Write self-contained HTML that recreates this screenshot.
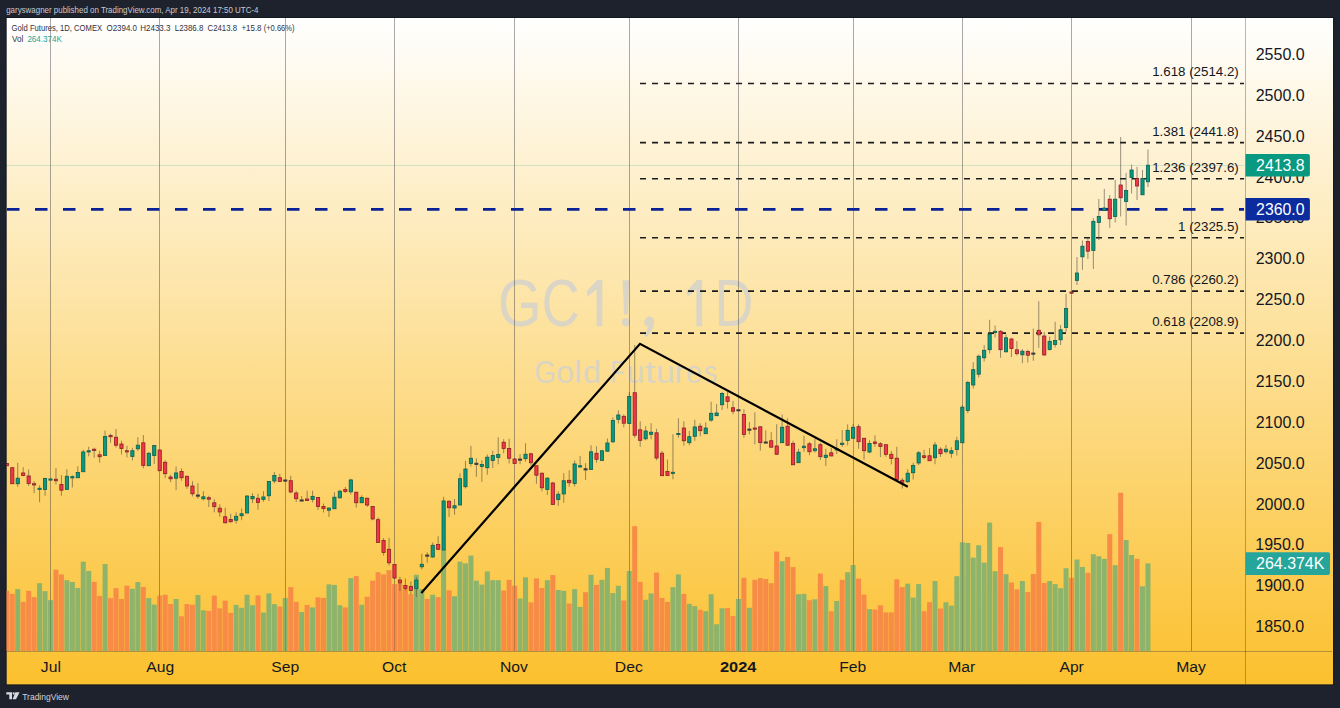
<!DOCTYPE html>
<html><head><meta charset="utf-8"><style>
html,body{margin:0;padding:0;}
body{width:1340px;height:708px;background:#1e222d;position:relative;overflow:hidden;font-family:"Liberation Sans",sans-serif;}
svg{position:absolute;left:0;top:0;}
.t{position:absolute;white-space:pre;line-height:1;}
</style></head><body>
<svg width="1340" height="708" viewBox="0 0 1340 708">
<defs><linearGradient id="bg" x1="0" y1="0" x2="0" y2="1"><stop offset="0" stop-color="#ffffff"/><stop offset="1" stop-color="#fbc02d"/></linearGradient><clipPath id="plot"><rect x="6" y="18" width="1238" height="633"/></clipPath></defs>
<rect x="6.5" y="18.0" width="1326.5" height="666.6" fill="url(#bg)"/>
<g opacity="0.85" font-family="'Liberation Sans', sans-serif"><text x="498.10" y="326.30" font-size="66.50" font-weight="normal" fill="#d5d3cb" textLength="43.60" lengthAdjust="spacingAndGlyphs" xml:space="preserve">G</text>
<text x="541.73" y="326.30" font-size="66.50" font-weight="normal" fill="#d5d3cb" textLength="37.76" lengthAdjust="spacingAndGlyphs" xml:space="preserve">C</text>
<text x="714.48" y="326.30" font-size="66.50" font-weight="normal" fill="#d5d3cb" textLength="38.91" lengthAdjust="spacingAndGlyphs" xml:space="preserve">D</text>
<path d="M622.6,280.3 L629.4,280.3 L627.9,314.5 L624.1,314.5 Z" fill="#d5d3cb"/><circle cx="626" cy="322.3" r="4.1" fill="#d5d3cb"/>
<path d="M645.2,319.5 A4.6,4.6 0 0 1 654,322 C654,328 650.5,333.5 646.5,337.1 L643.8,335.5 C646.5,332 647.8,329 647.6,326.5 A4.2,4.2 0 0 1 645.2,319.5 Z" fill="#d5d3cb"/>
<path d="M602.3,280 L602.3,326.3 L596.6,326.3 L596.6,289.5 L587.9,296.6 L586.4,291.6 L597.2,280 Z" fill="#d5d3cb"/>
<path d="M702.1,280 L702.1,326.3 L696.4,326.3 L696.4,289.5 L687.7,296.6 L686.2,291.6 L697.0,280 Z" fill="#d5d3cb"/>
<text x="534.42" y="382.50" font-size="32.00" font-weight="normal" fill="#d5d3cb" textLength="21.44" lengthAdjust="spacingAndGlyphs" xml:space="preserve">G</text>
<text x="556.26" y="382.50" font-size="32.00" font-weight="normal" fill="#d5d3cb" textLength="17.79" lengthAdjust="spacingAndGlyphs" xml:space="preserve">o</text>
<text x="574.47" y="382.50" font-size="32.00" font-weight="normal" fill="#d5d3cb" textLength="7.07" lengthAdjust="spacingAndGlyphs" xml:space="preserve">l</text>
<text x="582.94" y="382.50" font-size="32.00" font-weight="normal" fill="#d5d3cb" textLength="18.04" lengthAdjust="spacingAndGlyphs" xml:space="preserve">d</text>
<text x="610.52" y="382.50" font-size="32.00" font-weight="normal" fill="#d5d3cb" textLength="13.99" lengthAdjust="spacingAndGlyphs" xml:space="preserve">F</text>
<text x="626.82" y="382.50" font-size="32.00" font-weight="normal" fill="#d5d3cb" textLength="17.80" lengthAdjust="spacingAndGlyphs" xml:space="preserve">u</text>
<text x="645.03" y="382.50" font-size="32.00" font-weight="normal" fill="#d5d3cb" textLength="10.53" lengthAdjust="spacingAndGlyphs" xml:space="preserve">t</text>
<text x="655.98" y="382.50" font-size="32.00" font-weight="normal" fill="#d5d3cb" textLength="18.97" lengthAdjust="spacingAndGlyphs" xml:space="preserve">u</text>
<text x="674.28" y="382.50" font-size="32.00" font-weight="normal" fill="#d5d3cb" textLength="11.72" lengthAdjust="spacingAndGlyphs" xml:space="preserve">r</text>
<text x="686.08" y="382.50" font-size="32.00" font-weight="normal" fill="#d5d3cb" textLength="16.09" lengthAdjust="spacingAndGlyphs" xml:space="preserve">e</text>
<text x="704.06" y="382.50" font-size="32.00" font-weight="normal" fill="#d5d3cb" textLength="13.30" lengthAdjust="spacingAndGlyphs" xml:space="preserve">s</text></g>
<g clip-path="url(#plot)">
<rect x="50" y="18" width="1" height="633" fill="rgba(50,50,60,0.42)"/>
<rect x="159" y="18" width="1" height="633" fill="rgba(50,50,60,0.42)"/>
<rect x="285" y="18" width="1" height="633" fill="rgba(50,50,60,0.42)"/>
<rect x="394" y="18" width="1" height="633" fill="rgba(50,50,60,0.42)"/>
<rect x="514" y="18" width="1" height="633" fill="rgba(50,50,60,0.42)"/>
<rect x="629" y="18" width="1" height="633" fill="rgba(50,50,60,0.42)"/>
<rect x="738" y="18" width="1" height="633" fill="rgba(50,50,60,0.42)"/>
<rect x="853" y="18" width="1" height="633" fill="rgba(50,50,60,0.42)"/>
<rect x="962" y="18" width="1" height="633" fill="rgba(50,50,60,0.42)"/>
<rect x="1071" y="18" width="1" height="633" fill="rgba(50,50,60,0.42)"/>
<rect x="1191" y="18" width="1" height="633" fill="rgba(50,50,60,0.42)"/>
<rect x="4.32" y="590.85" width="5.0" height="60.15" fill="#f78c46"/>
<rect x="9.78" y="593.90" width="5.0" height="57.10" fill="#f78c46"/>
<rect x="15.24" y="589.15" width="5.0" height="61.85" fill="#8db46a"/>
<rect x="20.70" y="601.86" width="5.0" height="49.14" fill="#f78c46"/>
<rect x="26.16" y="590.85" width="5.0" height="60.15" fill="#f78c46"/>
<rect x="31.62" y="597.12" width="5.0" height="53.88" fill="#f78c46"/>
<rect x="37.08" y="583.22" width="5.0" height="67.78" fill="#8db46a"/>
<rect x="42.54" y="591.19" width="5.0" height="59.81" fill="#8db46a"/>
<rect x="48.00" y="600.17" width="5.0" height="50.83" fill="#8db46a"/>
<rect x="53.46" y="569.66" width="5.0" height="81.34" fill="#f78c46"/>
<rect x="58.92" y="574.41" width="5.0" height="76.59" fill="#f78c46"/>
<rect x="64.38" y="580.17" width="5.0" height="70.83" fill="#8db46a"/>
<rect x="69.84" y="582.03" width="5.0" height="68.97" fill="#8db46a"/>
<rect x="75.30" y="587.97" width="5.0" height="63.03" fill="#8db46a"/>
<rect x="80.76" y="561.69" width="5.0" height="89.31" fill="#8db46a"/>
<rect x="86.22" y="571.02" width="5.0" height="79.98" fill="#8db46a"/>
<rect x="91.68" y="581.86" width="5.0" height="69.14" fill="#f78c46"/>
<rect x="97.14" y="595.93" width="5.0" height="55.07" fill="#f78c46"/>
<rect x="102.60" y="564.07" width="5.0" height="86.93" fill="#8db46a"/>
<rect x="108.06" y="598.14" width="5.0" height="52.86" fill="#f78c46"/>
<rect x="113.52" y="588.14" width="5.0" height="62.86" fill="#f78c46"/>
<rect x="118.98" y="598.98" width="5.0" height="52.02" fill="#f78c46"/>
<rect x="124.44" y="585.76" width="5.0" height="65.24" fill="#f78c46"/>
<rect x="129.90" y="588.81" width="5.0" height="62.19" fill="#8db46a"/>
<rect x="135.36" y="582.03" width="5.0" height="68.97" fill="#8db46a"/>
<rect x="140.82" y="586.95" width="5.0" height="64.05" fill="#f78c46"/>
<rect x="146.28" y="598.14" width="5.0" height="52.86" fill="#8db46a"/>
<rect x="151.74" y="604.58" width="5.0" height="46.42" fill="#8db46a"/>
<rect x="157.20" y="595.59" width="5.0" height="55.41" fill="#f78c46"/>
<rect x="162.66" y="594.75" width="5.0" height="56.25" fill="#f78c46"/>
<rect x="168.12" y="604.07" width="5.0" height="46.93" fill="#f78c46"/>
<rect x="173.58" y="598.98" width="5.0" height="52.02" fill="#8db46a"/>
<rect x="179.04" y="616.27" width="5.0" height="34.73" fill="#f78c46"/>
<rect x="184.50" y="604.07" width="5.0" height="46.93" fill="#f78c46"/>
<rect x="189.96" y="604.75" width="5.0" height="46.25" fill="#f78c46"/>
<rect x="195.42" y="595.08" width="5.0" height="55.92" fill="#8db46a"/>
<rect x="200.88" y="610.34" width="5.0" height="40.66" fill="#8db46a"/>
<rect x="206.34" y="610.85" width="5.0" height="40.15" fill="#f78c46"/>
<rect x="211.80" y="595.59" width="5.0" height="55.41" fill="#f78c46"/>
<rect x="217.26" y="608.31" width="5.0" height="42.69" fill="#f78c46"/>
<rect x="222.72" y="600.68" width="5.0" height="50.32" fill="#f78c46"/>
<rect x="228.18" y="612.88" width="5.0" height="38.12" fill="#f78c46"/>
<rect x="233.64" y="604.92" width="5.0" height="46.08" fill="#8db46a"/>
<rect x="239.10" y="607.80" width="5.0" height="43.20" fill="#8db46a"/>
<rect x="244.56" y="594.75" width="5.0" height="56.25" fill="#8db46a"/>
<rect x="250.02" y="605.25" width="5.0" height="45.75" fill="#8db46a"/>
<rect x="255.48" y="595.42" width="5.0" height="55.58" fill="#f78c46"/>
<rect x="260.94" y="612.54" width="5.0" height="38.46" fill="#8db46a"/>
<rect x="266.40" y="593.39" width="5.0" height="57.61" fill="#8db46a"/>
<rect x="271.86" y="604.07" width="5.0" height="46.93" fill="#8db46a"/>
<rect x="277.32" y="606.44" width="5.0" height="44.56" fill="#f78c46"/>
<rect x="282.78" y="597.97" width="5.0" height="53.03" fill="#8db46a"/>
<rect x="288.24" y="587.12" width="5.0" height="63.88" fill="#f78c46"/>
<rect x="293.70" y="601.86" width="5.0" height="49.14" fill="#f78c46"/>
<rect x="299.16" y="612.03" width="5.0" height="38.97" fill="#8db46a"/>
<rect x="304.62" y="604.92" width="5.0" height="46.08" fill="#f78c46"/>
<rect x="310.08" y="607.46" width="5.0" height="43.54" fill="#8db46a"/>
<rect x="315.54" y="597.29" width="5.0" height="53.71" fill="#f78c46"/>
<rect x="321.00" y="597.97" width="5.0" height="53.03" fill="#f78c46"/>
<rect x="326.46" y="584.41" width="5.0" height="66.59" fill="#8db46a"/>
<rect x="331.92" y="584.92" width="5.0" height="66.08" fill="#8db46a"/>
<rect x="337.38" y="605.25" width="5.0" height="45.75" fill="#8db46a"/>
<rect x="342.84" y="607.46" width="5.0" height="43.54" fill="#f78c46"/>
<rect x="348.30" y="578.14" width="5.0" height="72.86" fill="#8db46a"/>
<rect x="353.76" y="576.10" width="5.0" height="74.90" fill="#f78c46"/>
<rect x="359.22" y="604.75" width="5.0" height="46.25" fill="#8db46a"/>
<rect x="364.68" y="596.78" width="5.0" height="54.22" fill="#f78c46"/>
<rect x="370.14" y="580.68" width="5.0" height="70.32" fill="#f78c46"/>
<rect x="375.60" y="572.20" width="5.0" height="78.80" fill="#f78c46"/>
<rect x="381.06" y="574.41" width="5.0" height="76.59" fill="#f78c46"/>
<rect x="386.52" y="570.17" width="5.0" height="80.83" fill="#f78c46"/>
<rect x="391.98" y="584.07" width="5.0" height="66.93" fill="#f78c46"/>
<rect x="397.44" y="583.73" width="5.0" height="67.27" fill="#f78c46"/>
<rect x="402.90" y="589.15" width="5.0" height="61.85" fill="#f78c46"/>
<rect x="408.36" y="594.24" width="5.0" height="56.76" fill="#f78c46"/>
<rect x="413.82" y="574.75" width="5.0" height="76.25" fill="#8db46a"/>
<rect x="419.28" y="589.15" width="5.0" height="61.85" fill="#8db46a"/>
<rect x="424.74" y="598.98" width="5.0" height="52.02" fill="#f78c46"/>
<rect x="430.20" y="594.75" width="5.0" height="56.25" fill="#8db46a"/>
<rect x="435.66" y="597.12" width="5.0" height="53.88" fill="#f78c46"/>
<rect x="441.12" y="550.00" width="5.0" height="101.00" fill="#8db46a"/>
<rect x="446.58" y="590.34" width="5.0" height="60.66" fill="#f78c46"/>
<rect x="452.04" y="596.27" width="5.0" height="54.73" fill="#8db46a"/>
<rect x="457.50" y="561.69" width="5.0" height="89.31" fill="#8db46a"/>
<rect x="462.96" y="563.39" width="5.0" height="87.61" fill="#8db46a"/>
<rect x="468.42" y="555.59" width="5.0" height="95.41" fill="#8db46a"/>
<rect x="473.88" y="580.68" width="5.0" height="70.32" fill="#8db46a"/>
<rect x="479.34" y="584.58" width="5.0" height="66.42" fill="#8db46a"/>
<rect x="484.80" y="571.36" width="5.0" height="79.64" fill="#8db46a"/>
<rect x="490.26" y="580.17" width="5.0" height="70.83" fill="#8db46a"/>
<rect x="495.72" y="580.17" width="5.0" height="70.83" fill="#8db46a"/>
<rect x="501.18" y="590.51" width="5.0" height="60.49" fill="#f78c46"/>
<rect x="506.64" y="579.83" width="5.0" height="71.17" fill="#f78c46"/>
<rect x="512.10" y="585.76" width="5.0" height="65.24" fill="#f78c46"/>
<rect x="517.56" y="598.47" width="5.0" height="52.53" fill="#8db46a"/>
<rect x="523.02" y="577.29" width="5.0" height="73.71" fill="#8db46a"/>
<rect x="528.48" y="602.37" width="5.0" height="48.63" fill="#f78c46"/>
<rect x="533.94" y="578.47" width="5.0" height="72.53" fill="#f78c46"/>
<rect x="539.40" y="587.97" width="5.0" height="63.03" fill="#f78c46"/>
<rect x="544.86" y="580.17" width="5.0" height="70.83" fill="#8db46a"/>
<rect x="550.32" y="575.08" width="5.0" height="75.92" fill="#f78c46"/>
<rect x="555.78" y="590.00" width="5.0" height="61.00" fill="#8db46a"/>
<rect x="561.24" y="590.85" width="5.0" height="60.15" fill="#8db46a"/>
<rect x="566.70" y="603.56" width="5.0" height="47.44" fill="#f78c46"/>
<rect x="572.16" y="589.15" width="5.0" height="61.85" fill="#8db46a"/>
<rect x="577.62" y="606.95" width="5.0" height="44.05" fill="#8db46a"/>
<rect x="583.08" y="592.20" width="5.0" height="58.80" fill="#f78c46"/>
<rect x="588.54" y="574.75" width="5.0" height="76.25" fill="#8db46a"/>
<rect x="594.00" y="584.92" width="5.0" height="66.08" fill="#f78c46"/>
<rect x="599.46" y="579.83" width="5.0" height="71.17" fill="#8db46a"/>
<rect x="604.92" y="567.97" width="5.0" height="83.03" fill="#8db46a"/>
<rect x="610.38" y="593.05" width="5.0" height="57.95" fill="#8db46a"/>
<rect x="615.84" y="585.76" width="5.0" height="65.24" fill="#8db46a"/>
<rect x="621.30" y="600.51" width="5.0" height="50.49" fill="#f78c46"/>
<rect x="626.76" y="571.02" width="5.0" height="79.98" fill="#8db46a"/>
<rect x="632.22" y="526.20" width="5.0" height="124.80" fill="#f78c46"/>
<rect x="637.68" y="581.86" width="5.0" height="69.14" fill="#f78c46"/>
<rect x="643.14" y="599.83" width="5.0" height="51.17" fill="#8db46a"/>
<rect x="648.60" y="593.39" width="5.0" height="57.61" fill="#8db46a"/>
<rect x="654.06" y="572.54" width="5.0" height="78.46" fill="#f78c46"/>
<rect x="659.52" y="597.97" width="5.0" height="53.03" fill="#f78c46"/>
<rect x="664.98" y="601.86" width="5.0" height="49.14" fill="#f78c46"/>
<rect x="670.44" y="587.12" width="5.0" height="63.88" fill="#8db46a"/>
<rect x="675.90" y="574.41" width="5.0" height="76.59" fill="#8db46a"/>
<rect x="681.36" y="593.90" width="5.0" height="57.10" fill="#f78c46"/>
<rect x="686.82" y="603.90" width="5.0" height="47.10" fill="#8db46a"/>
<rect x="692.28" y="606.10" width="5.0" height="44.90" fill="#8db46a"/>
<rect x="697.74" y="609.83" width="5.0" height="41.17" fill="#f78c46"/>
<rect x="703.20" y="611.19" width="5.0" height="39.81" fill="#8db46a"/>
<rect x="708.66" y="594.24" width="5.0" height="56.76" fill="#8db46a"/>
<rect x="714.12" y="624.24" width="5.0" height="26.76" fill="#8db46a"/>
<rect x="719.58" y="608.31" width="5.0" height="42.69" fill="#8db46a"/>
<rect x="725.04" y="608.14" width="5.0" height="42.86" fill="#f78c46"/>
<rect x="730.50" y="615.93" width="5.0" height="35.07" fill="#f78c46"/>
<rect x="735.96" y="598.98" width="5.0" height="52.02" fill="#8db46a"/>
<rect x="741.42" y="577.80" width="5.0" height="73.20" fill="#f78c46"/>
<rect x="746.88" y="607.80" width="5.0" height="43.20" fill="#8db46a"/>
<rect x="752.34" y="579.83" width="5.0" height="71.17" fill="#f78c46"/>
<rect x="757.80" y="578.14" width="5.0" height="72.86" fill="#f78c46"/>
<rect x="763.26" y="578.98" width="5.0" height="72.02" fill="#f78c46"/>
<rect x="768.72" y="583.22" width="5.0" height="67.78" fill="#f78c46"/>
<rect x="774.18" y="551.53" width="5.0" height="99.47" fill="#f78c46"/>
<rect x="779.64" y="561.19" width="5.0" height="89.81" fill="#8db46a"/>
<rect x="785.10" y="556.95" width="5.0" height="94.05" fill="#f78c46"/>
<rect x="790.56" y="567.12" width="5.0" height="83.88" fill="#f78c46"/>
<rect x="796.02" y="594.24" width="5.0" height="56.76" fill="#8db46a"/>
<rect x="801.48" y="593.90" width="5.0" height="57.10" fill="#8db46a"/>
<rect x="806.94" y="600.17" width="5.0" height="50.83" fill="#f78c46"/>
<rect x="812.40" y="599.32" width="5.0" height="51.68" fill="#8db46a"/>
<rect x="817.86" y="573.56" width="5.0" height="77.44" fill="#f78c46"/>
<rect x="823.32" y="586.10" width="5.0" height="64.90" fill="#8db46a"/>
<rect x="828.78" y="611.19" width="5.0" height="39.81" fill="#f78c46"/>
<rect x="834.24" y="601.02" width="5.0" height="49.98" fill="#8db46a"/>
<rect x="839.70" y="579.83" width="5.0" height="71.17" fill="#f78c46"/>
<rect x="845.16" y="572.20" width="5.0" height="78.80" fill="#8db46a"/>
<rect x="850.62" y="565.08" width="5.0" height="85.92" fill="#8db46a"/>
<rect x="856.08" y="578.64" width="5.0" height="72.36" fill="#f78c46"/>
<rect x="861.54" y="594.58" width="5.0" height="56.42" fill="#f78c46"/>
<rect x="867.00" y="609.15" width="5.0" height="41.85" fill="#8db46a"/>
<rect x="872.46" y="609.49" width="5.0" height="41.51" fill="#f78c46"/>
<rect x="877.92" y="605.25" width="5.0" height="45.75" fill="#f78c46"/>
<rect x="883.38" y="612.37" width="5.0" height="38.63" fill="#f78c46"/>
<rect x="888.84" y="612.37" width="5.0" height="38.63" fill="#f78c46"/>
<rect x="894.30" y="579.32" width="5.0" height="71.68" fill="#f78c46"/>
<rect x="899.76" y="587.12" width="5.0" height="63.88" fill="#f78c46"/>
<rect x="905.22" y="583.73" width="5.0" height="67.27" fill="#8db46a"/>
<rect x="910.68" y="597.63" width="5.0" height="53.37" fill="#8db46a"/>
<rect x="916.14" y="584.07" width="5.0" height="66.93" fill="#8db46a"/>
<rect x="921.60" y="611.19" width="5.0" height="39.81" fill="#f78c46"/>
<rect x="927.06" y="602.22" width="5.0" height="48.78" fill="#f78c46"/>
<rect x="932.52" y="580.96" width="5.0" height="70.04" fill="#8db46a"/>
<rect x="937.98" y="608.55" width="5.0" height="42.45" fill="#f78c46"/>
<rect x="943.44" y="602.22" width="5.0" height="48.78" fill="#8db46a"/>
<rect x="948.90" y="605.61" width="5.0" height="45.39" fill="#8db46a"/>
<rect x="954.36" y="576.21" width="5.0" height="74.79" fill="#8db46a"/>
<rect x="959.82" y="542.29" width="5.0" height="108.71" fill="#8db46a"/>
<rect x="965.28" y="542.97" width="5.0" height="108.03" fill="#8db46a"/>
<rect x="970.74" y="557.67" width="5.0" height="93.33" fill="#8db46a"/>
<rect x="976.20" y="545.23" width="5.0" height="105.77" fill="#8db46a"/>
<rect x="981.66" y="562.64" width="5.0" height="88.36" fill="#8db46a"/>
<rect x="987.12" y="522.61" width="5.0" height="128.39" fill="#8db46a"/>
<rect x="992.58" y="571.23" width="5.0" height="79.77" fill="#8db46a"/>
<rect x="998.04" y="547.04" width="5.0" height="103.96" fill="#f78c46"/>
<rect x="1003.50" y="574.17" width="5.0" height="76.83" fill="#8db46a"/>
<rect x="1008.96" y="582.54" width="5.0" height="68.46" fill="#f78c46"/>
<rect x="1014.42" y="589.33" width="5.0" height="61.67" fill="#f78c46"/>
<rect x="1019.88" y="580.96" width="5.0" height="70.04" fill="#8db46a"/>
<rect x="1025.34" y="592.04" width="5.0" height="58.96" fill="#f78c46"/>
<rect x="1030.80" y="573.95" width="5.0" height="77.05" fill="#f78c46"/>
<rect x="1036.26" y="521.94" width="5.0" height="129.06" fill="#f78c46"/>
<rect x="1041.72" y="582.99" width="5.0" height="68.01" fill="#f78c46"/>
<rect x="1047.18" y="580.96" width="5.0" height="70.04" fill="#8db46a"/>
<rect x="1052.64" y="584.12" width="5.0" height="66.88" fill="#8db46a"/>
<rect x="1058.10" y="588.20" width="5.0" height="62.80" fill="#8db46a"/>
<rect x="1063.56" y="568.23" width="5.0" height="82.77" fill="#8db46a"/>
<rect x="1069.02" y="577.89" width="5.0" height="73.11" fill="#f78c46"/>
<rect x="1074.48" y="559.58" width="5.0" height="91.42" fill="#8db46a"/>
<rect x="1079.94" y="566.96" width="5.0" height="84.04" fill="#8db46a"/>
<rect x="1085.40" y="572.80" width="5.0" height="78.20" fill="#f78c46"/>
<rect x="1090.86" y="554.24" width="5.0" height="96.76" fill="#8db46a"/>
<rect x="1096.32" y="556.28" width="5.0" height="94.72" fill="#8db46a"/>
<rect x="1101.78" y="558.82" width="5.0" height="92.18" fill="#8db46a"/>
<rect x="1107.24" y="534.16" width="5.0" height="116.84" fill="#f78c46"/>
<rect x="1112.70" y="565.18" width="5.0" height="85.82" fill="#8db46a"/>
<rect x="1118.16" y="492.71" width="5.0" height="158.29" fill="#f78c46"/>
<rect x="1123.62" y="540.01" width="5.0" height="110.99" fill="#8db46a"/>
<rect x="1129.08" y="555.01" width="5.0" height="95.99" fill="#8db46a"/>
<rect x="1134.54" y="558.82" width="5.0" height="92.18" fill="#f78c46"/>
<rect x="1140.00" y="586.28" width="5.0" height="64.72" fill="#8db46a"/>
<rect x="1145.46" y="563.40" width="5.0" height="87.60" fill="#8db46a"/>
<rect x="50" y="600.17" width="1" height="50.83" fill="rgba(50,50,60,0.25)"/>
<rect x="159" y="595.59" width="1" height="55.41" fill="rgba(50,50,60,0.25)"/>
<rect x="285" y="597.97" width="1" height="53.03" fill="rgba(50,50,60,0.25)"/>
<rect x="394" y="584.07" width="1" height="66.93" fill="rgba(50,50,60,0.25)"/>
<rect x="514" y="585.76" width="1" height="65.24" fill="rgba(50,50,60,0.25)"/>
<rect x="629" y="571.02" width="1" height="79.98" fill="rgba(50,50,60,0.25)"/>
<rect x="738" y="598.98" width="1" height="52.02" fill="rgba(50,50,60,0.25)"/>
<rect x="853" y="565.08" width="1" height="85.92" fill="rgba(50,50,60,0.25)"/>
<rect x="962" y="542.29" width="1" height="108.71" fill="rgba(50,50,60,0.25)"/>
<rect x="1071" y="577.89" width="1" height="73.11" fill="rgba(50,50,60,0.25)"/>
<rect x="6" y="165" width="1238" height="1" fill="rgba(8,153,129,0.18)"/>
<line x1="640" y1="83.47" x2="1245" y2="83.47" stroke="#1c1c1c" stroke-width="1.6" stroke-dasharray="6 6"/>
<line x1="640" y1="142.66" x2="1245" y2="142.66" stroke="#1c1c1c" stroke-width="1.6" stroke-dasharray="6 6"/>
<line x1="640" y1="178.80" x2="1245" y2="178.80" stroke="#1c1c1c" stroke-width="1.6" stroke-dasharray="6 6"/>
<line x1="640" y1="237.75" x2="1245" y2="237.75" stroke="#1c1c1c" stroke-width="1.6" stroke-dasharray="6 6"/>
<line x1="640" y1="291.14" x2="1245" y2="291.14" stroke="#1c1c1c" stroke-width="1.6" stroke-dasharray="6 6"/>
<line x1="640" y1="333.08" x2="1245" y2="333.08" stroke="#1c1c1c" stroke-width="1.6" stroke-dasharray="6 6"/>
<line x1="7" y1="209.4" x2="1245" y2="209.4" stroke="#0a2196" stroke-width="2.6" stroke-dasharray="12.5 15.5" stroke-linecap="butt"/>
<rect x="6.32" y="463.50" width="1" height="2.25" fill="rgba(70,65,55,0.55)"/>
<rect x="5.22" y="463.50" width="3.2" height="2.25" fill="#f23645" stroke="#8a1f28" stroke-width="0.8"/>
<rect x="11.78" y="467.25" width="1" height="16.50" fill="rgba(70,65,55,0.55)"/>
<rect x="10.68" y="467.70" width="3.2" height="16.05" fill="#f23645" stroke="#8a1f28" stroke-width="0.8"/>
<rect x="17.24" y="462.75" width="1" height="24.00" fill="rgba(70,65,55,0.55)"/>
<rect x="16.14" y="478.20" width="3.2" height="5.55" fill="#089981" stroke="#0b5e50" stroke-width="0.8"/>
<rect x="22.70" y="467.25" width="1" height="9.00" fill="rgba(70,65,55,0.55)"/>
<rect x="21.60" y="472.95" width="3.2" height="2.55" fill="#f23645" stroke="#8a1f28" stroke-width="0.8"/>
<rect x="28.16" y="469.50" width="1" height="16.50" fill="rgba(70,65,55,0.55)"/>
<rect x="27.06" y="475.95" width="3.2" height="7.50" fill="#f23645" stroke="#8a1f28" stroke-width="0.8"/>
<rect x="33.62" y="481.20" width="1" height="12.00" fill="rgba(70,65,55,0.55)"/>
<rect x="32.52" y="483.75" width="3.2" height="1.20" fill="#f23645" stroke="#8a1f28" stroke-width="0.8"/>
<rect x="39.08" y="485.25" width="1" height="16.95" fill="rgba(70,65,55,0.55)"/>
<rect x="37.98" y="488.25" width="3.2" height="1.20" fill="#089981" stroke="#0b5e50" stroke-width="0.8"/>
<rect x="44.54" y="477.75" width="1" height="18.00" fill="rgba(70,65,55,0.55)"/>
<rect x="43.44" y="478.50" width="3.2" height="10.95" fill="#089981" stroke="#0b5e50" stroke-width="0.8"/>
<rect x="50.00" y="478.95" width="1" height="1.05" fill="rgba(70,65,55,0.55)"/>
<rect x="48.90" y="478.95" width="3.2" height="1.20" fill="#089981" stroke="#0b5e50" stroke-width="0.8"/>
<rect x="55.46" y="468.00" width="1" height="16.50" fill="rgba(70,65,55,0.55)"/>
<rect x="54.36" y="479.25" width="3.2" height="1.50" fill="#f23645" stroke="#8a1f28" stroke-width="0.8"/>
<rect x="60.92" y="475.20" width="1" height="20.55" fill="rgba(70,65,55,0.55)"/>
<rect x="59.82" y="484.50" width="3.2" height="5.70" fill="#f23645" stroke="#8a1f28" stroke-width="0.8"/>
<rect x="66.38" y="469.20" width="1" height="20.25" fill="rgba(70,65,55,0.55)"/>
<rect x="65.28" y="476.25" width="3.2" height="13.20" fill="#089981" stroke="#0b5e50" stroke-width="0.8"/>
<rect x="71.84" y="475.20" width="1" height="12.30" fill="rgba(70,65,55,0.55)"/>
<rect x="70.74" y="476.70" width="3.2" height="1.20" fill="#089981" stroke="#0b5e50" stroke-width="0.8"/>
<rect x="77.30" y="466.20" width="1" height="11.55" fill="rgba(70,65,55,0.55)"/>
<rect x="76.20" y="472.50" width="3.2" height="5.25" fill="#089981" stroke="#0b5e50" stroke-width="0.8"/>
<rect x="82.76" y="449.70" width="1" height="22.05" fill="rgba(70,65,55,0.55)"/>
<rect x="81.66" y="451.95" width="3.2" height="19.80" fill="#089981" stroke="#0b5e50" stroke-width="0.8"/>
<rect x="88.22" y="446.70" width="1" height="9.60" fill="rgba(70,65,55,0.55)"/>
<rect x="87.12" y="450.75" width="3.2" height="1.20" fill="#089981" stroke="#0b5e50" stroke-width="0.8"/>
<rect x="93.68" y="447.75" width="1" height="10.05" fill="rgba(70,65,55,0.55)"/>
<rect x="92.58" y="449.25" width="3.2" height="1.20" fill="#f23645" stroke="#8a1f28" stroke-width="0.8"/>
<rect x="99.14" y="450.75" width="1" height="12.00" fill="rgba(70,65,55,0.55)"/>
<rect x="98.04" y="454.80" width="3.2" height="1.95" fill="#f23645" stroke="#8a1f28" stroke-width="0.8"/>
<rect x="104.60" y="430.50" width="1" height="25.05" fill="rgba(70,65,55,0.55)"/>
<rect x="103.50" y="436.50" width="3.2" height="19.05" fill="#089981" stroke="#0b5e50" stroke-width="0.8"/>
<rect x="110.06" y="433.50" width="1" height="9.30" fill="rgba(70,65,55,0.55)"/>
<rect x="108.96" y="435.45" width="3.2" height="1.35" fill="#f23645" stroke="#8a1f28" stroke-width="0.8"/>
<rect x="115.52" y="429.00" width="1" height="18.45" fill="rgba(70,65,55,0.55)"/>
<rect x="114.42" y="437.25" width="3.2" height="7.95" fill="#f23645" stroke="#8a1f28" stroke-width="0.8"/>
<rect x="120.98" y="440.70" width="1" height="13.80" fill="rgba(70,65,55,0.55)"/>
<rect x="119.88" y="444.00" width="3.2" height="4.50" fill="#f23645" stroke="#8a1f28" stroke-width="0.8"/>
<rect x="126.44" y="445.80" width="1" height="11.70" fill="rgba(70,65,55,0.55)"/>
<rect x="125.34" y="450.75" width="3.2" height="1.20" fill="#f23645" stroke="#8a1f28" stroke-width="0.8"/>
<rect x="131.90" y="447.75" width="1" height="12.75" fill="rgba(70,65,55,0.55)"/>
<rect x="130.80" y="450.75" width="3.2" height="5.70" fill="#089981" stroke="#0b5e50" stroke-width="0.8"/>
<rect x="137.36" y="437.25" width="1" height="13.50" fill="rgba(70,65,55,0.55)"/>
<rect x="136.26" y="445.20" width="3.2" height="3.60" fill="#089981" stroke="#0b5e50" stroke-width="0.8"/>
<rect x="142.82" y="435.00" width="1" height="33.30" fill="rgba(70,65,55,0.55)"/>
<rect x="141.72" y="442.80" width="3.2" height="22.65" fill="#f23645" stroke="#8a1f28" stroke-width="0.8"/>
<rect x="148.28" y="451.95" width="1" height="13.80" fill="rgba(70,65,55,0.55)"/>
<rect x="147.18" y="453.30" width="3.2" height="12.45" fill="#089981" stroke="#0b5e50" stroke-width="0.8"/>
<rect x="153.74" y="445.50" width="1" height="18.30" fill="rgba(70,65,55,0.55)"/>
<rect x="152.64" y="445.50" width="3.2" height="10.05" fill="#089981" stroke="#0b5e50" stroke-width="0.8"/>
<rect x="159.20" y="450.00" width="1" height="20.70" fill="rgba(70,65,55,0.55)"/>
<rect x="158.10" y="450.00" width="3.2" height="20.70" fill="#f23645" stroke="#8a1f28" stroke-width="0.8"/>
<rect x="164.66" y="460.20" width="1" height="18.00" fill="rgba(70,65,55,0.55)"/>
<rect x="163.56" y="462.30" width="3.2" height="11.40" fill="#f23645" stroke="#8a1f28" stroke-width="0.8"/>
<rect x="170.12" y="474.75" width="1" height="7.50" fill="rgba(70,65,55,0.55)"/>
<rect x="169.02" y="477.00" width="3.2" height="1.80" fill="#f23645" stroke="#8a1f28" stroke-width="0.8"/>
<rect x="175.58" y="466.50" width="1" height="23.70" fill="rgba(70,65,55,0.55)"/>
<rect x="174.48" y="472.95" width="3.2" height="5.25" fill="#089981" stroke="#0b5e50" stroke-width="0.8"/>
<rect x="181.04" y="468.30" width="1" height="12.45" fill="rgba(70,65,55,0.55)"/>
<rect x="179.94" y="471.45" width="3.2" height="6.30" fill="#f23645" stroke="#8a1f28" stroke-width="0.8"/>
<rect x="186.50" y="475.80" width="1" height="12.90" fill="rgba(70,65,55,0.55)"/>
<rect x="185.40" y="476.25" width="3.2" height="9.75" fill="#f23645" stroke="#8a1f28" stroke-width="0.8"/>
<rect x="191.96" y="481.20" width="1" height="15.30" fill="rgba(70,65,55,0.55)"/>
<rect x="190.86" y="486.00" width="3.2" height="7.80" fill="#f23645" stroke="#8a1f28" stroke-width="0.8"/>
<rect x="197.42" y="483.30" width="1" height="15.45" fill="rgba(70,65,55,0.55)"/>
<rect x="196.32" y="495.00" width="3.2" height="1.20" fill="#3a3a3a" stroke="#3a3a3a" stroke-width="0.8"/>
<rect x="202.88" y="491.25" width="1" height="9.00" fill="rgba(70,65,55,0.55)"/>
<rect x="201.78" y="496.80" width="3.2" height="1.95" fill="#089981" stroke="#0b5e50" stroke-width="0.8"/>
<rect x="208.34" y="495.75" width="1" height="11.25" fill="rgba(70,65,55,0.55)"/>
<rect x="207.24" y="497.70" width="3.2" height="1.50" fill="#f23645" stroke="#8a1f28" stroke-width="0.8"/>
<rect x="213.80" y="499.20" width="1" height="13.05" fill="rgba(70,65,55,0.55)"/>
<rect x="212.70" y="502.80" width="3.2" height="3.90" fill="#f23645" stroke="#8a1f28" stroke-width="0.8"/>
<rect x="219.26" y="504.30" width="1" height="12.45" fill="rgba(70,65,55,0.55)"/>
<rect x="218.16" y="508.20" width="3.2" height="3.75" fill="#f23645" stroke="#8a1f28" stroke-width="0.8"/>
<rect x="224.72" y="507.75" width="1" height="15.75" fill="rgba(70,65,55,0.55)"/>
<rect x="223.62" y="516.75" width="3.2" height="6.00" fill="#f23645" stroke="#8a1f28" stroke-width="0.8"/>
<rect x="230.18" y="513.75" width="1" height="9.00" fill="rgba(70,65,55,0.55)"/>
<rect x="229.08" y="519.45" width="3.2" height="2.25" fill="#f23645" stroke="#8a1f28" stroke-width="0.8"/>
<rect x="235.64" y="512.25" width="1" height="11.25" fill="rgba(70,65,55,0.55)"/>
<rect x="234.54" y="516.30" width="3.2" height="3.90" fill="#089981" stroke="#0b5e50" stroke-width="0.8"/>
<rect x="241.10" y="508.50" width="1" height="11.70" fill="rgba(70,65,55,0.55)"/>
<rect x="240.00" y="513.75" width="3.2" height="1.95" fill="#089981" stroke="#0b5e50" stroke-width="0.8"/>
<rect x="246.56" y="495.00" width="1" height="18.00" fill="rgba(70,65,55,0.55)"/>
<rect x="245.46" y="496.05" width="3.2" height="16.95" fill="#089981" stroke="#0b5e50" stroke-width="0.8"/>
<rect x="252.02" y="493.20" width="1" height="9.75" fill="rgba(70,65,55,0.55)"/>
<rect x="250.92" y="496.50" width="3.2" height="2.25" fill="#089981" stroke="#0b5e50" stroke-width="0.8"/>
<rect x="257.48" y="493.80" width="1" height="15.90" fill="rgba(70,65,55,0.55)"/>
<rect x="256.38" y="498.30" width="3.2" height="4.20" fill="#f23645" stroke="#8a1f28" stroke-width="0.8"/>
<rect x="262.94" y="491.25" width="1" height="10.50" fill="rgba(70,65,55,0.55)"/>
<rect x="261.84" y="496.95" width="3.2" height="2.55" fill="#089981" stroke="#0b5e50" stroke-width="0.8"/>
<rect x="268.40" y="481.50" width="1" height="19.50" fill="rgba(70,65,55,0.55)"/>
<rect x="267.30" y="481.50" width="3.2" height="14.25" fill="#089981" stroke="#0b5e50" stroke-width="0.8"/>
<rect x="273.86" y="472.00" width="1" height="11.25" fill="rgba(70,65,55,0.55)"/>
<rect x="272.76" y="475.45" width="3.2" height="5.55" fill="#089981" stroke="#0b5e50" stroke-width="0.8"/>
<rect x="279.32" y="473.80" width="1" height="7.65" fill="rgba(70,65,55,0.55)"/>
<rect x="278.22" y="477.70" width="3.2" height="3.75" fill="#f23645" stroke="#8a1f28" stroke-width="0.8"/>
<rect x="284.78" y="479.95" width="1" height="0.75" fill="rgba(70,65,55,0.55)"/>
<rect x="283.68" y="479.95" width="3.2" height="1.20" fill="#3a3a3a" stroke="#3a3a3a" stroke-width="0.8"/>
<rect x="290.24" y="475.75" width="1" height="17.55" fill="rgba(70,65,55,0.55)"/>
<rect x="289.14" y="480.70" width="3.2" height="11.25" fill="#f23645" stroke="#8a1f28" stroke-width="0.8"/>
<rect x="295.70" y="490.75" width="1" height="11.25" fill="rgba(70,65,55,0.55)"/>
<rect x="294.60" y="493.00" width="3.2" height="5.70" fill="#f23645" stroke="#8a1f28" stroke-width="0.8"/>
<rect x="301.16" y="496.00" width="1" height="5.25" fill="rgba(70,65,55,0.55)"/>
<rect x="300.06" y="499.90" width="3.2" height="1.20" fill="#3a3a3a" stroke="#3a3a3a" stroke-width="0.8"/>
<rect x="306.62" y="490.75" width="1" height="9.75" fill="rgba(70,65,55,0.55)"/>
<rect x="305.52" y="499.00" width="3.2" height="1.50" fill="#f23645" stroke="#8a1f28" stroke-width="0.8"/>
<rect x="312.08" y="490.75" width="1" height="11.70" fill="rgba(70,65,55,0.55)"/>
<rect x="310.98" y="496.45" width="3.2" height="3.00" fill="#089981" stroke="#0b5e50" stroke-width="0.8"/>
<rect x="317.54" y="497.20" width="1" height="12.75" fill="rgba(70,65,55,0.55)"/>
<rect x="316.44" y="497.50" width="3.2" height="9.00" fill="#f23645" stroke="#8a1f28" stroke-width="0.8"/>
<rect x="323.00" y="503.50" width="1" height="9.00" fill="rgba(70,65,55,0.55)"/>
<rect x="321.90" y="506.50" width="3.2" height="1.95" fill="#f23645" stroke="#8a1f28" stroke-width="0.8"/>
<rect x="328.46" y="507.70" width="1" height="9.30" fill="rgba(70,65,55,0.55)"/>
<rect x="327.36" y="508.00" width="3.2" height="2.25" fill="#089981" stroke="#0b5e50" stroke-width="0.8"/>
<rect x="333.92" y="492.25" width="1" height="16.50" fill="rgba(70,65,55,0.55)"/>
<rect x="332.82" y="497.20" width="3.2" height="11.55" fill="#089981" stroke="#0b5e50" stroke-width="0.8"/>
<rect x="339.38" y="490.00" width="1" height="8.70" fill="rgba(70,65,55,0.55)"/>
<rect x="338.28" y="491.20" width="3.2" height="6.60" fill="#089981" stroke="#0b5e50" stroke-width="0.8"/>
<rect x="344.84" y="487.00" width="1" height="6.00" fill="rgba(70,65,55,0.55)"/>
<rect x="343.74" y="489.55" width="3.2" height="1.95" fill="#f23645" stroke="#8a1f28" stroke-width="0.8"/>
<rect x="350.30" y="478.75" width="1" height="15.75" fill="rgba(70,65,55,0.55)"/>
<rect x="349.20" y="479.95" width="3.2" height="11.85" fill="#089981" stroke="#0b5e50" stroke-width="0.8"/>
<rect x="355.76" y="491.50" width="1" height="16.20" fill="rgba(70,65,55,0.55)"/>
<rect x="354.66" y="492.25" width="3.2" height="10.50" fill="#f23645" stroke="#8a1f28" stroke-width="0.8"/>
<rect x="361.22" y="495.25" width="1" height="7.50" fill="rgba(70,65,55,0.55)"/>
<rect x="360.12" y="497.50" width="3.2" height="5.25" fill="#089981" stroke="#0b5e50" stroke-width="0.8"/>
<rect x="366.68" y="497.50" width="1" height="9.45" fill="rgba(70,65,55,0.55)"/>
<rect x="365.58" y="498.25" width="3.2" height="6.75" fill="#f23645" stroke="#8a1f28" stroke-width="0.8"/>
<rect x="372.14" y="506.50" width="1" height="13.80" fill="rgba(70,65,55,0.55)"/>
<rect x="371.04" y="506.50" width="3.2" height="12.45" fill="#f23645" stroke="#8a1f28" stroke-width="0.8"/>
<rect x="377.60" y="517.45" width="1" height="25.05" fill="rgba(70,65,55,0.55)"/>
<rect x="376.50" y="519.70" width="3.2" height="22.80" fill="#f23645" stroke="#8a1f28" stroke-width="0.8"/>
<rect x="383.06" y="538.00" width="1" height="17.50" fill="rgba(70,65,55,0.55)"/>
<rect x="381.96" y="540.50" width="3.2" height="12.00" fill="#f23645" stroke="#8a1f28" stroke-width="0.8"/>
<rect x="388.52" y="537.80" width="1" height="27.70" fill="rgba(70,65,55,0.55)"/>
<rect x="387.42" y="549.30" width="3.2" height="13.50" fill="#f23645" stroke="#8a1f28" stroke-width="0.8"/>
<rect x="393.98" y="564.00" width="1" height="15.00" fill="rgba(70,65,55,0.55)"/>
<rect x="392.88" y="564.40" width="3.2" height="13.60" fill="#f23645" stroke="#8a1f28" stroke-width="0.8"/>
<rect x="399.44" y="576.90" width="1" height="14.10" fill="rgba(70,65,55,0.55)"/>
<rect x="398.34" y="580.00" width="3.2" height="3.00" fill="#f23645" stroke="#8a1f28" stroke-width="0.8"/>
<rect x="404.90" y="578.50" width="1" height="11.80" fill="rgba(70,65,55,0.55)"/>
<rect x="403.80" y="585.40" width="3.2" height="3.00" fill="#f23645" stroke="#8a1f28" stroke-width="0.8"/>
<rect x="410.36" y="581.40" width="1" height="13.00" fill="rgba(70,65,55,0.55)"/>
<rect x="409.26" y="586.30" width="3.2" height="4.30" fill="#f23645" stroke="#8a1f28" stroke-width="0.8"/>
<rect x="415.82" y="577.00" width="1" height="20.00" fill="rgba(70,65,55,0.55)"/>
<rect x="414.72" y="580.10" width="3.2" height="8.30" fill="#089981" stroke="#0b5e50" stroke-width="0.8"/>
<rect x="421.28" y="553.80" width="1" height="15.50" fill="rgba(70,65,55,0.55)"/>
<rect x="420.18" y="564.30" width="3.2" height="2.50" fill="#089981" stroke="#0b5e50" stroke-width="0.8"/>
<rect x="426.74" y="552.20" width="1" height="10.50" fill="rgba(70,65,55,0.55)"/>
<rect x="425.64" y="555.00" width="3.2" height="1.20" fill="#3a3a3a" stroke="#3a3a3a" stroke-width="0.8"/>
<rect x="432.20" y="542.50" width="1" height="15.30" fill="rgba(70,65,55,0.55)"/>
<rect x="431.10" y="545.30" width="3.2" height="11.70" fill="#089981" stroke="#0b5e50" stroke-width="0.8"/>
<rect x="437.66" y="536.20" width="1" height="13.80" fill="rgba(70,65,55,0.55)"/>
<rect x="436.56" y="544.50" width="3.2" height="4.80" fill="#f23645" stroke="#8a1f28" stroke-width="0.8"/>
<rect x="443.12" y="496.75" width="1" height="53.25" fill="rgba(70,65,55,0.55)"/>
<rect x="442.02" y="500.95" width="3.2" height="49.05" fill="#089981" stroke="#0b5e50" stroke-width="0.8"/>
<rect x="448.58" y="500.20" width="1" height="16.80" fill="rgba(70,65,55,0.55)"/>
<rect x="447.48" y="501.25" width="3.2" height="6.45" fill="#f23645" stroke="#8a1f28" stroke-width="0.8"/>
<rect x="454.04" y="499.00" width="1" height="15.75" fill="rgba(70,65,55,0.55)"/>
<rect x="452.94" y="505.75" width="3.2" height="2.25" fill="#089981" stroke="#0b5e50" stroke-width="0.8"/>
<rect x="459.50" y="473.20" width="1" height="31.80" fill="rgba(70,65,55,0.55)"/>
<rect x="458.40" y="478.75" width="3.2" height="26.25" fill="#089981" stroke="#0b5e50" stroke-width="0.8"/>
<rect x="464.96" y="460.75" width="1" height="27.75" fill="rgba(70,65,55,0.55)"/>
<rect x="463.86" y="469.00" width="3.2" height="17.70" fill="#089981" stroke="#0b5e50" stroke-width="0.8"/>
<rect x="470.42" y="445.80" width="1" height="20.70" fill="rgba(70,65,55,0.55)"/>
<rect x="469.32" y="458.25" width="3.2" height="5.25" fill="#089981" stroke="#0b5e50" stroke-width="0.8"/>
<rect x="475.88" y="458.25" width="1" height="18.45" fill="rgba(70,65,55,0.55)"/>
<rect x="474.78" y="463.20" width="3.2" height="1.20" fill="#3a3a3a" stroke="#3a3a3a" stroke-width="0.8"/>
<rect x="481.34" y="460.20" width="1" height="21.60" fill="rgba(70,65,55,0.55)"/>
<rect x="480.24" y="464.55" width="3.2" height="1.95" fill="#089981" stroke="#0b5e50" stroke-width="0.8"/>
<rect x="486.80" y="454.50" width="1" height="20.25" fill="rgba(70,65,55,0.55)"/>
<rect x="485.70" y="457.20" width="3.2" height="10.50" fill="#089981" stroke="#0b5e50" stroke-width="0.8"/>
<rect x="492.26" y="450.75" width="1" height="17.25" fill="rgba(70,65,55,0.55)"/>
<rect x="491.16" y="455.55" width="3.2" height="4.95" fill="#089981" stroke="#0b5e50" stroke-width="0.8"/>
<rect x="497.72" y="437.25" width="1" height="27.00" fill="rgba(70,65,55,0.55)"/>
<rect x="496.62" y="454.50" width="3.2" height="3.00" fill="#089981" stroke="#0b5e50" stroke-width="0.8"/>
<rect x="503.18" y="439.20" width="1" height="14.10" fill="rgba(70,65,55,0.55)"/>
<rect x="502.08" y="442.20" width="3.2" height="6.30" fill="#f23645" stroke="#8a1f28" stroke-width="0.8"/>
<rect x="508.64" y="438.75" width="1" height="24.75" fill="rgba(70,65,55,0.55)"/>
<rect x="507.54" y="448.50" width="3.2" height="9.75" fill="#f23645" stroke="#8a1f28" stroke-width="0.8"/>
<rect x="514.10" y="458.25" width="1" height="5.25" fill="rgba(70,65,55,0.55)"/>
<rect x="513.00" y="459.00" width="3.2" height="4.50" fill="#f23645" stroke="#8a1f28" stroke-width="0.8"/>
<rect x="519.56" y="454.20" width="1" height="10.05" fill="rgba(70,65,55,0.55)"/>
<rect x="518.46" y="459.00" width="3.2" height="1.20" fill="#3a3a3a" stroke="#3a3a3a" stroke-width="0.8"/>
<rect x="525.02" y="443.25" width="1" height="18.45" fill="rgba(70,65,55,0.55)"/>
<rect x="523.92" y="454.20" width="3.2" height="4.50" fill="#089981" stroke="#0b5e50" stroke-width="0.8"/>
<rect x="530.48" y="453.30" width="1" height="12.15" fill="rgba(70,65,55,0.55)"/>
<rect x="529.38" y="453.75" width="3.2" height="9.00" fill="#f23645" stroke="#8a1f28" stroke-width="0.8"/>
<rect x="535.94" y="465.75" width="1" height="18.00" fill="rgba(70,65,55,0.55)"/>
<rect x="534.84" y="465.75" width="3.2" height="9.45" fill="#f23645" stroke="#8a1f28" stroke-width="0.8"/>
<rect x="541.40" y="472.50" width="1" height="18.75" fill="rgba(70,65,55,0.55)"/>
<rect x="540.30" y="473.25" width="3.2" height="14.55" fill="#f23645" stroke="#8a1f28" stroke-width="0.8"/>
<rect x="546.86" y="477.00" width="1" height="18.00" fill="rgba(70,65,55,0.55)"/>
<rect x="545.76" y="478.20" width="3.2" height="11.25" fill="#089981" stroke="#0b5e50" stroke-width="0.8"/>
<rect x="552.32" y="481.80" width="1" height="22.65" fill="rgba(70,65,55,0.55)"/>
<rect x="551.22" y="483.00" width="3.2" height="21.45" fill="#f23645" stroke="#8a1f28" stroke-width="0.8"/>
<rect x="557.78" y="491.25" width="1" height="14.55" fill="rgba(70,65,55,0.55)"/>
<rect x="556.68" y="494.25" width="3.2" height="5.25" fill="#089981" stroke="#0b5e50" stroke-width="0.8"/>
<rect x="563.24" y="473.25" width="1" height="29.55" fill="rgba(70,65,55,0.55)"/>
<rect x="562.14" y="480.75" width="3.2" height="13.20" fill="#089981" stroke="#0b5e50" stroke-width="0.8"/>
<rect x="568.70" y="470.25" width="1" height="16.50" fill="rgba(70,65,55,0.55)"/>
<rect x="567.60" y="480.30" width="3.2" height="2.40" fill="#f23645" stroke="#8a1f28" stroke-width="0.8"/>
<rect x="574.16" y="460.50" width="1" height="25.95" fill="rgba(70,65,55,0.55)"/>
<rect x="573.06" y="463.95" width="3.2" height="19.50" fill="#089981" stroke="#0b5e50" stroke-width="0.8"/>
<rect x="579.62" y="456.00" width="1" height="12.00" fill="rgba(70,65,55,0.55)"/>
<rect x="578.52" y="465.75" width="3.2" height="1.20" fill="#089981" stroke="#0b5e50" stroke-width="0.8"/>
<rect x="585.08" y="463.20" width="1" height="16.80" fill="rgba(70,65,55,0.55)"/>
<rect x="583.98" y="468.75" width="3.2" height="1.20" fill="#3a3a3a" stroke="#3a3a3a" stroke-width="0.8"/>
<rect x="590.54" y="445.20" width="1" height="24.30" fill="rgba(70,65,55,0.55)"/>
<rect x="589.44" y="451.80" width="3.2" height="17.70" fill="#089981" stroke="#0b5e50" stroke-width="0.8"/>
<rect x="596.00" y="446.25" width="1" height="16.50" fill="rgba(70,65,55,0.55)"/>
<rect x="594.90" y="453.30" width="3.2" height="6.00" fill="#f23645" stroke="#8a1f28" stroke-width="0.8"/>
<rect x="601.46" y="450.00" width="1" height="10.50" fill="rgba(70,65,55,0.55)"/>
<rect x="600.36" y="450.75" width="3.2" height="9.75" fill="#089981" stroke="#0b5e50" stroke-width="0.8"/>
<rect x="606.92" y="438.50" width="1" height="12.75" fill="rgba(70,65,55,0.55)"/>
<rect x="605.82" y="443.00" width="3.2" height="8.25" fill="#089981" stroke="#0b5e50" stroke-width="0.8"/>
<rect x="612.38" y="417.50" width="1" height="25.50" fill="rgba(70,65,55,0.55)"/>
<rect x="611.28" y="420.50" width="3.2" height="21.30" fill="#089981" stroke="#0b5e50" stroke-width="0.8"/>
<rect x="617.84" y="410.30" width="1" height="13.20" fill="rgba(70,65,55,0.55)"/>
<rect x="616.74" y="414.95" width="3.2" height="4.35" fill="#089981" stroke="#0b5e50" stroke-width="0.8"/>
<rect x="623.30" y="414.50" width="1" height="12.75" fill="rgba(70,65,55,0.55)"/>
<rect x="622.20" y="416.30" width="3.2" height="6.90" fill="#f23645" stroke="#8a1f28" stroke-width="0.8"/>
<rect x="628.76" y="392.00" width="1" height="31.50" fill="rgba(70,65,55,0.55)"/>
<rect x="627.66" y="396.50" width="3.2" height="27.00" fill="#089981" stroke="#0b5e50" stroke-width="0.8"/>
<rect x="634.22" y="345.00" width="1" height="92.75" fill="rgba(70,65,55,0.55)"/>
<rect x="633.12" y="392.70" width="3.2" height="42.50" fill="#f23645" stroke="#8a1f28" stroke-width="0.8"/>
<rect x="639.68" y="421.25" width="1" height="25.50" fill="rgba(70,65,55,0.55)"/>
<rect x="638.58" y="429.80" width="3.2" height="10.50" fill="#f23645" stroke="#8a1f28" stroke-width="0.8"/>
<rect x="645.14" y="426.20" width="1" height="14.10" fill="rgba(70,65,55,0.55)"/>
<rect x="644.04" y="431.00" width="3.2" height="7.80" fill="#089981" stroke="#0b5e50" stroke-width="0.8"/>
<rect x="650.60" y="423.20" width="1" height="16.05" fill="rgba(70,65,55,0.55)"/>
<rect x="649.50" y="432.20" width="3.2" height="2.10" fill="#089981" stroke="#0b5e50" stroke-width="0.8"/>
<rect x="656.06" y="428.75" width="1" height="31.50" fill="rgba(70,65,55,0.55)"/>
<rect x="654.96" y="432.80" width="3.2" height="25.20" fill="#f23645" stroke="#8a1f28" stroke-width="0.8"/>
<rect x="661.52" y="450.80" width="1" height="25.20" fill="rgba(70,65,55,0.55)"/>
<rect x="660.42" y="453.20" width="3.2" height="22.50" fill="#f23645" stroke="#8a1f28" stroke-width="0.8"/>
<rect x="666.98" y="459.50" width="1" height="16.05" fill="rgba(70,65,55,0.55)"/>
<rect x="665.88" y="471.50" width="3.2" height="4.05" fill="#f23645" stroke="#8a1f28" stroke-width="0.8"/>
<rect x="672.44" y="434.30" width="1" height="45.00" fill="rgba(70,65,55,0.55)"/>
<rect x="671.34" y="472.25" width="3.2" height="1.20" fill="#089981" stroke="#0b5e50" stroke-width="0.8"/>
<rect x="677.90" y="418.25" width="1" height="19.50" fill="rgba(70,65,55,0.55)"/>
<rect x="676.80" y="433.40" width="3.2" height="1.20" fill="#089981" stroke="#0b5e50" stroke-width="0.8"/>
<rect x="683.36" y="421.25" width="1" height="24.45" fill="rgba(70,65,55,0.55)"/>
<rect x="682.26" y="428.00" width="3.2" height="12.75" fill="#f23645" stroke="#8a1f28" stroke-width="0.8"/>
<rect x="688.82" y="431.00" width="1" height="14.25" fill="rgba(70,65,55,0.55)"/>
<rect x="687.72" y="436.70" width="3.2" height="6.00" fill="#089981" stroke="#0b5e50" stroke-width="0.8"/>
<rect x="694.28" y="419.75" width="1" height="21.00" fill="rgba(70,65,55,0.55)"/>
<rect x="693.18" y="426.95" width="3.2" height="9.30" fill="#089981" stroke="#0b5e50" stroke-width="0.8"/>
<rect x="699.74" y="423.20" width="1" height="13.05" fill="rgba(70,65,55,0.55)"/>
<rect x="698.64" y="426.20" width="3.2" height="4.50" fill="#f23645" stroke="#8a1f28" stroke-width="0.8"/>
<rect x="705.20" y="422.30" width="1" height="11.40" fill="rgba(70,65,55,0.55)"/>
<rect x="704.10" y="428.00" width="3.2" height="5.70" fill="#089981" stroke="#0b5e50" stroke-width="0.8"/>
<rect x="710.66" y="401.75" width="1" height="20.25" fill="rgba(70,65,55,0.55)"/>
<rect x="709.56" y="413.30" width="3.2" height="6.75" fill="#089981" stroke="#0b5e50" stroke-width="0.8"/>
<rect x="716.12" y="404.00" width="1" height="11.70" fill="rgba(70,65,55,0.55)"/>
<rect x="715.02" y="413.00" width="3.2" height="2.70" fill="#089981" stroke="#0b5e50" stroke-width="0.8"/>
<rect x="721.58" y="391.70" width="1" height="18.30" fill="rgba(70,65,55,0.55)"/>
<rect x="720.48" y="393.50" width="3.2" height="11.25" fill="#089981" stroke="#0b5e50" stroke-width="0.8"/>
<rect x="727.04" y="392.00" width="1" height="16.50" fill="rgba(70,65,55,0.55)"/>
<rect x="725.94" y="396.80" width="3.2" height="4.65" fill="#f23645" stroke="#8a1f28" stroke-width="0.8"/>
<rect x="732.50" y="401.00" width="1" height="13.20" fill="rgba(70,65,55,0.55)"/>
<rect x="731.40" y="407.75" width="3.2" height="3.45" fill="#f23645" stroke="#8a1f28" stroke-width="0.8"/>
<rect x="737.96" y="409.70" width="1" height="0.75" fill="rgba(70,65,55,0.55)"/>
<rect x="736.86" y="409.70" width="3.2" height="1.20" fill="#3a3a3a" stroke="#3a3a3a" stroke-width="0.8"/>
<rect x="743.42" y="409.25" width="1" height="28.50" fill="rgba(70,65,55,0.55)"/>
<rect x="742.32" y="414.50" width="3.2" height="19.95" fill="#f23645" stroke="#8a1f28" stroke-width="0.8"/>
<rect x="748.88" y="422.00" width="1" height="12.30" fill="rgba(70,65,55,0.55)"/>
<rect x="747.78" y="429.05" width="3.2" height="1.20" fill="#3a3a3a" stroke="#3a3a3a" stroke-width="0.8"/>
<rect x="754.34" y="412.25" width="1" height="31.95" fill="rgba(70,65,55,0.55)"/>
<rect x="753.24" y="428.00" width="3.2" height="1.20" fill="#f23645" stroke="#8a1f28" stroke-width="0.8"/>
<rect x="759.80" y="426.50" width="1" height="24.00" fill="rgba(70,65,55,0.55)"/>
<rect x="758.70" y="426.80" width="3.2" height="15.90" fill="#f23645" stroke="#8a1f28" stroke-width="0.8"/>
<rect x="765.26" y="430.25" width="1" height="12.45" fill="rgba(70,65,55,0.55)"/>
<rect x="764.16" y="441.95" width="3.2" height="1.20" fill="#3a3a3a" stroke="#3a3a3a" stroke-width="0.8"/>
<rect x="770.72" y="432.20" width="1" height="15.00" fill="rgba(70,65,55,0.55)"/>
<rect x="769.62" y="440.75" width="3.2" height="6.45" fill="#f23645" stroke="#8a1f28" stroke-width="0.8"/>
<rect x="776.18" y="424.25" width="1" height="30.75" fill="rgba(70,65,55,0.55)"/>
<rect x="775.08" y="446.00" width="3.2" height="8.25" fill="#f23645" stroke="#8a1f28" stroke-width="0.8"/>
<rect x="781.64" y="414.50" width="1" height="28.20" fill="rgba(70,65,55,0.55)"/>
<rect x="780.54" y="427.25" width="3.2" height="15.45" fill="#089981" stroke="#0b5e50" stroke-width="0.8"/>
<rect x="787.10" y="418.25" width="1" height="27.75" fill="rgba(70,65,55,0.55)"/>
<rect x="786.00" y="426.20" width="3.2" height="19.05" fill="#f23645" stroke="#8a1f28" stroke-width="0.8"/>
<rect x="792.56" y="440.80" width="1" height="24.00" fill="rgba(70,65,55,0.55)"/>
<rect x="791.46" y="443.50" width="3.2" height="21.30" fill="#f23645" stroke="#8a1f28" stroke-width="0.8"/>
<rect x="798.02" y="448.75" width="1" height="13.95" fill="rgba(70,65,55,0.55)"/>
<rect x="796.92" y="452.20" width="3.2" height="10.50" fill="#089981" stroke="#0b5e50" stroke-width="0.8"/>
<rect x="803.48" y="435.70" width="1" height="16.05" fill="rgba(70,65,55,0.55)"/>
<rect x="802.38" y="446.20" width="3.2" height="1.50" fill="#089981" stroke="#0b5e50" stroke-width="0.8"/>
<rect x="808.94" y="442.00" width="1" height="13.20" fill="rgba(70,65,55,0.55)"/>
<rect x="807.84" y="443.80" width="3.2" height="7.95" fill="#f23645" stroke="#8a1f28" stroke-width="0.8"/>
<rect x="814.40" y="439.00" width="1" height="13.50" fill="rgba(70,65,55,0.55)"/>
<rect x="813.30" y="448.75" width="3.2" height="1.95" fill="#089981" stroke="#0b5e50" stroke-width="0.8"/>
<rect x="819.86" y="442.75" width="1" height="17.25" fill="rgba(70,65,55,0.55)"/>
<rect x="818.76" y="444.70" width="3.2" height="12.00" fill="#f23645" stroke="#8a1f28" stroke-width="0.8"/>
<rect x="825.32" y="448.75" width="1" height="17.25" fill="rgba(70,65,55,0.55)"/>
<rect x="824.22" y="455.20" width="3.2" height="2.25" fill="#089981" stroke="#0b5e50" stroke-width="0.8"/>
<rect x="830.78" y="448.00" width="1" height="8.25" fill="rgba(70,65,55,0.55)"/>
<rect x="829.68" y="452.80" width="3.2" height="3.15" fill="#f23645" stroke="#8a1f28" stroke-width="0.8"/>
<rect x="836.24" y="439.30" width="1" height="14.70" fill="rgba(70,65,55,0.55)"/>
<rect x="835.14" y="448.75" width="3.2" height="1.20" fill="#089981" stroke="#0b5e50" stroke-width="0.8"/>
<rect x="841.70" y="430.00" width="1" height="16.80" fill="rgba(70,65,55,0.55)"/>
<rect x="840.60" y="443.20" width="3.2" height="1.20" fill="#089981" stroke="#0b5e50" stroke-width="0.8"/>
<rect x="847.16" y="424.30" width="1" height="21.00" fill="rgba(70,65,55,0.55)"/>
<rect x="846.06" y="430.30" width="3.2" height="10.20" fill="#089981" stroke="#0b5e50" stroke-width="0.8"/>
<rect x="852.62" y="424.00" width="1" height="14.25" fill="rgba(70,65,55,0.55)"/>
<rect x="851.52" y="427.30" width="3.2" height="10.95" fill="#089981" stroke="#0b5e50" stroke-width="0.8"/>
<rect x="858.08" y="424.30" width="1" height="24.45" fill="rgba(70,65,55,0.55)"/>
<rect x="856.98" y="426.70" width="3.2" height="15.00" fill="#f23645" stroke="#8a1f28" stroke-width="0.8"/>
<rect x="863.54" y="438.25" width="1" height="21.45" fill="rgba(70,65,55,0.55)"/>
<rect x="862.44" y="438.25" width="3.2" height="12.45" fill="#f23645" stroke="#8a1f28" stroke-width="0.8"/>
<rect x="869.00" y="440.20" width="1" height="13.05" fill="rgba(70,65,55,0.55)"/>
<rect x="867.90" y="443.50" width="3.2" height="8.55" fill="#089981" stroke="#0b5e50" stroke-width="0.8"/>
<rect x="874.46" y="435.25" width="1" height="11.55" fill="rgba(70,65,55,0.55)"/>
<rect x="873.36" y="442.00" width="3.2" height="1.50" fill="#f23645" stroke="#8a1f28" stroke-width="0.8"/>
<rect x="879.92" y="442.00" width="1" height="15.00" fill="rgba(70,65,55,0.55)"/>
<rect x="878.82" y="443.80" width="3.2" height="2.70" fill="#f23645" stroke="#8a1f28" stroke-width="0.8"/>
<rect x="885.38" y="444.25" width="1" height="12.45" fill="rgba(70,65,55,0.55)"/>
<rect x="884.28" y="444.70" width="3.2" height="9.60" fill="#f23645" stroke="#8a1f28" stroke-width="0.8"/>
<rect x="890.84" y="451.00" width="1" height="13.50" fill="rgba(70,65,55,0.55)"/>
<rect x="889.74" y="454.30" width="3.2" height="4.20" fill="#f23645" stroke="#8a1f28" stroke-width="0.8"/>
<rect x="896.30" y="446.80" width="1" height="32.70" fill="rgba(70,65,55,0.55)"/>
<rect x="895.20" y="458.20" width="3.2" height="21.30" fill="#f23645" stroke="#8a1f28" stroke-width="0.8"/>
<rect x="901.76" y="478.00" width="1" height="10.50" fill="rgba(70,65,55,0.55)"/>
<rect x="900.66" y="480.25" width="3.2" height="1.95" fill="#f23645" stroke="#8a1f28" stroke-width="0.8"/>
<rect x="907.22" y="469.30" width="1" height="13.50" fill="rgba(70,65,55,0.55)"/>
<rect x="906.12" y="473.20" width="3.2" height="8.55" fill="#089981" stroke="#0b5e50" stroke-width="0.8"/>
<rect x="912.68" y="462.70" width="1" height="16.80" fill="rgba(70,65,55,0.55)"/>
<rect x="911.58" y="465.55" width="3.2" height="7.20" fill="#089981" stroke="#0b5e50" stroke-width="0.8"/>
<rect x="918.14" y="451.00" width="1" height="14.25" fill="rgba(70,65,55,0.55)"/>
<rect x="917.04" y="452.80" width="3.2" height="10.20" fill="#089981" stroke="#0b5e50" stroke-width="0.8"/>
<rect x="923.60" y="449.80" width="1" height="9.45" fill="rgba(70,65,55,0.55)"/>
<rect x="922.50" y="455.80" width="3.2" height="1.65" fill="#f23645" stroke="#8a1f28" stroke-width="0.8"/>
<rect x="929.06" y="448.00" width="1" height="12.75" fill="rgba(70,65,55,0.55)"/>
<rect x="927.96" y="455.80" width="3.2" height="4.95" fill="#f23645" stroke="#8a1f28" stroke-width="0.8"/>
<rect x="934.52" y="442.00" width="1" height="22.20" fill="rgba(70,65,55,0.55)"/>
<rect x="933.42" y="445.00" width="3.2" height="12.75" fill="#089981" stroke="#0b5e50" stroke-width="0.8"/>
<rect x="939.98" y="447.25" width="1" height="9.75" fill="rgba(70,65,55,0.55)"/>
<rect x="938.88" y="449.20" width="3.2" height="4.50" fill="#f23645" stroke="#8a1f28" stroke-width="0.8"/>
<rect x="945.44" y="445.00" width="1" height="8.70" fill="rgba(70,65,55,0.55)"/>
<rect x="944.34" y="449.20" width="3.2" height="2.55" fill="#089981" stroke="#0b5e50" stroke-width="0.8"/>
<rect x="950.90" y="447.25" width="1" height="10.50" fill="rgba(70,65,55,0.55)"/>
<rect x="949.80" y="450.70" width="3.2" height="2.55" fill="#089981" stroke="#0b5e50" stroke-width="0.8"/>
<rect x="956.36" y="436.75" width="1" height="18.75" fill="rgba(70,65,55,0.55)"/>
<rect x="955.26" y="440.80" width="3.2" height="8.70" fill="#089981" stroke="#0b5e50" stroke-width="0.8"/>
<rect x="961.82" y="405.00" width="1" height="37.75" fill="rgba(70,65,55,0.55)"/>
<rect x="960.72" y="407.20" width="3.2" height="35.55" fill="#089981" stroke="#0b5e50" stroke-width="0.8"/>
<rect x="967.28" y="380.80" width="1" height="32.40" fill="rgba(70,65,55,0.55)"/>
<rect x="966.18" y="382.50" width="3.2" height="28.00" fill="#089981" stroke="#0b5e50" stroke-width="0.8"/>
<rect x="972.74" y="362.20" width="1" height="26.30" fill="rgba(70,65,55,0.55)"/>
<rect x="971.64" y="369.70" width="3.2" height="15.30" fill="#089981" stroke="#0b5e50" stroke-width="0.8"/>
<rect x="978.20" y="354.50" width="1" height="23.00" fill="rgba(70,65,55,0.55)"/>
<rect x="977.10" y="356.20" width="3.2" height="18.00" fill="#089981" stroke="#0b5e50" stroke-width="0.8"/>
<rect x="983.66" y="345.00" width="1" height="16.50" fill="rgba(70,65,55,0.55)"/>
<rect x="982.56" y="350.30" width="3.2" height="7.50" fill="#089981" stroke="#0b5e50" stroke-width="0.8"/>
<rect x="989.12" y="319.80" width="1" height="33.70" fill="rgba(70,65,55,0.55)"/>
<rect x="988.02" y="334.00" width="3.2" height="15.70" fill="#089981" stroke="#0b5e50" stroke-width="0.8"/>
<rect x="994.58" y="325.50" width="1" height="12.00" fill="rgba(70,65,55,0.55)"/>
<rect x="993.48" y="331.30" width="3.2" height="1.20" fill="#089981" stroke="#0b5e50" stroke-width="0.8"/>
<rect x="1000.04" y="330.00" width="1" height="27.80" fill="rgba(70,65,55,0.55)"/>
<rect x="998.94" y="331.30" width="3.2" height="18.40" fill="#f23645" stroke="#8a1f28" stroke-width="0.8"/>
<rect x="1005.50" y="334.50" width="1" height="18.00" fill="rgba(70,65,55,0.55)"/>
<rect x="1004.40" y="337.80" width="3.2" height="14.00" fill="#089981" stroke="#0b5e50" stroke-width="0.8"/>
<rect x="1010.96" y="337.80" width="1" height="19.20" fill="rgba(70,65,55,0.55)"/>
<rect x="1009.86" y="339.00" width="3.2" height="9.50" fill="#f23645" stroke="#8a1f28" stroke-width="0.8"/>
<rect x="1016.42" y="341.00" width="1" height="14.50" fill="rgba(70,65,55,0.55)"/>
<rect x="1015.32" y="349.80" width="3.2" height="3.90" fill="#f23645" stroke="#8a1f28" stroke-width="0.8"/>
<rect x="1021.88" y="349.00" width="1" height="14.20" fill="rgba(70,65,55,0.55)"/>
<rect x="1020.78" y="351.20" width="3.2" height="3.60" fill="#089981" stroke="#0b5e50" stroke-width="0.8"/>
<rect x="1027.34" y="349.80" width="1" height="12.70" fill="rgba(70,65,55,0.55)"/>
<rect x="1026.24" y="351.50" width="3.2" height="3.70" fill="#f23645" stroke="#8a1f28" stroke-width="0.8"/>
<rect x="1032.80" y="328.50" width="1" height="32.30" fill="rgba(70,65,55,0.55)"/>
<rect x="1031.70" y="353.00" width="3.2" height="1.20" fill="#3a3a3a" stroke="#3a3a3a" stroke-width="0.8"/>
<rect x="1038.26" y="301.20" width="1" height="46.60" fill="rgba(70,65,55,0.55)"/>
<rect x="1037.16" y="330.30" width="3.2" height="4.50" fill="#f23645" stroke="#8a1f28" stroke-width="0.8"/>
<rect x="1043.72" y="332.00" width="1" height="23.50" fill="rgba(70,65,55,0.55)"/>
<rect x="1042.62" y="336.00" width="3.2" height="19.00" fill="#f23645" stroke="#8a1f28" stroke-width="0.8"/>
<rect x="1049.18" y="336.50" width="1" height="14.00" fill="rgba(70,65,55,0.55)"/>
<rect x="1048.08" y="341.30" width="3.2" height="8.20" fill="#089981" stroke="#0b5e50" stroke-width="0.8"/>
<rect x="1054.64" y="321.80" width="1" height="25.70" fill="rgba(70,65,55,0.55)"/>
<rect x="1053.54" y="340.50" width="3.2" height="4.00" fill="#089981" stroke="#0b5e50" stroke-width="0.8"/>
<rect x="1060.10" y="325.00" width="1" height="20.00" fill="rgba(70,65,55,0.55)"/>
<rect x="1059.00" y="329.80" width="3.2" height="10.00" fill="#089981" stroke="#0b5e50" stroke-width="0.8"/>
<rect x="1065.56" y="294.00" width="1" height="37.80" fill="rgba(70,65,55,0.55)"/>
<rect x="1064.46" y="308.50" width="3.2" height="19.00" fill="#089981" stroke="#0b5e50" stroke-width="0.8"/>
<rect x="1071.02" y="291.50" width="1" height="2.00" fill="rgba(70,65,55,0.55)"/>
<rect x="1069.92" y="292.00" width="3.2" height="1.20" fill="#f23645" stroke="#8a1f28" stroke-width="0.8"/>
<rect x="1076.48" y="257.00" width="1" height="28.00" fill="rgba(70,65,55,0.55)"/>
<rect x="1075.38" y="273.00" width="3.2" height="7.50" fill="#089981" stroke="#0b5e50" stroke-width="0.8"/>
<rect x="1081.94" y="240.50" width="1" height="29.30" fill="rgba(70,65,55,0.55)"/>
<rect x="1080.84" y="246.20" width="3.2" height="10.60" fill="#089981" stroke="#0b5e50" stroke-width="0.8"/>
<rect x="1087.40" y="238.50" width="1" height="20.50" fill="rgba(70,65,55,0.55)"/>
<rect x="1086.30" y="241.50" width="3.2" height="9.70" fill="#f23645" stroke="#8a1f28" stroke-width="0.8"/>
<rect x="1092.86" y="218.00" width="1" height="51.00" fill="rgba(70,65,55,0.55)"/>
<rect x="1091.76" y="221.30" width="3.2" height="29.20" fill="#089981" stroke="#0b5e50" stroke-width="0.8"/>
<rect x="1098.32" y="199.00" width="1" height="41.00" fill="rgba(70,65,55,0.55)"/>
<rect x="1097.22" y="216.50" width="3.2" height="6.00" fill="#089981" stroke="#0b5e50" stroke-width="0.8"/>
<rect x="1103.78" y="189.00" width="1" height="22.00" fill="rgba(70,65,55,0.55)"/>
<rect x="1102.68" y="208.00" width="3.2" height="2.50" fill="#089981" stroke="#0b5e50" stroke-width="0.8"/>
<rect x="1109.24" y="195.00" width="1" height="32.80" fill="rgba(70,65,55,0.55)"/>
<rect x="1108.14" y="199.20" width="3.2" height="19.60" fill="#f23645" stroke="#8a1f28" stroke-width="0.8"/>
<rect x="1114.70" y="180.00" width="1" height="42.50" fill="rgba(70,65,55,0.55)"/>
<rect x="1113.60" y="199.20" width="3.2" height="17.30" fill="#089981" stroke="#0b5e50" stroke-width="0.8"/>
<rect x="1120.16" y="137.00" width="1" height="79.50" fill="rgba(70,65,55,0.55)"/>
<rect x="1119.06" y="185.00" width="3.2" height="12.80" fill="#f23645" stroke="#8a1f28" stroke-width="0.8"/>
<rect x="1125.62" y="173.00" width="1" height="52.50" fill="rgba(70,65,55,0.55)"/>
<rect x="1124.52" y="190.50" width="3.2" height="11.00" fill="#089981" stroke="#0b5e50" stroke-width="0.8"/>
<rect x="1131.08" y="164.50" width="1" height="29.00" fill="rgba(70,65,55,0.55)"/>
<rect x="1129.98" y="170.00" width="3.2" height="7.50" fill="#089981" stroke="#0b5e50" stroke-width="0.8"/>
<rect x="1136.54" y="166.80" width="1" height="33.20" fill="rgba(70,65,55,0.55)"/>
<rect x="1135.44" y="178.50" width="3.2" height="7.50" fill="#f23645" stroke="#8a1f28" stroke-width="0.8"/>
<rect x="1142.00" y="170.00" width="1" height="24.80" fill="rgba(70,65,55,0.55)"/>
<rect x="1140.90" y="178.50" width="3.2" height="16.30" fill="#089981" stroke="#0b5e50" stroke-width="0.8"/>
<rect x="1147.46" y="149.50" width="1" height="37.50" fill="rgba(70,65,55,0.55)"/>
<rect x="1146.36" y="165.20" width="3.2" height="16.60" fill="#089981" stroke="#0b5e50" stroke-width="0.8"/>
<polyline points="421.3,593.1 640,343.8 907.8,486.7" fill="none" stroke="#000" stroke-width="2.2" stroke-linejoin="miter"/>
</g>
<rect x="6" y="17.5" width="1327.8" height="667.5" fill="none" stroke="#131722" stroke-width="0.8"/>
<rect x="1245" y="18" width="1" height="666" fill="rgba(50,50,60,0.35)"/>
<rect x="6" y="651" width="1326" height="1" fill="rgba(50,50,60,0.35)"/>
<g font-family="'Liberation Sans', sans-serif"><text x="6.17" y="12.50" font-size="9.00" font-weight="normal" fill="#c8cbd1" textLength="252.27" lengthAdjust="spacingAndGlyphs" xml:space="preserve">garyswagner published on TradingView.com, Apr 19, 2024 17:50 UTC-4</text>
<text x="11.62" y="30.80" font-size="8.70" font-weight="normal" fill="#2f3241" textLength="90.54" lengthAdjust="spacingAndGlyphs" xml:space="preserve">Gold Futures, 1D, COMEX</text>
<text x="106.53" y="30.80" font-size="8.70" font-weight="normal" fill="#2f3241" textLength="30.49" lengthAdjust="spacingAndGlyphs" xml:space="preserve">O2394.0</text>
<text x="140.24" y="30.80" font-size="8.70" font-weight="normal" fill="#2f3241" textLength="30.20" lengthAdjust="spacingAndGlyphs" xml:space="preserve">H2433.3</text>
<text x="174.85" y="30.80" font-size="8.70" font-weight="normal" fill="#2f3241" textLength="28.48" lengthAdjust="spacingAndGlyphs" xml:space="preserve">L2386.8</text>
<text x="207.60" y="30.80" font-size="8.70" font-weight="normal" fill="#2f3241" textLength="29.43" lengthAdjust="spacingAndGlyphs" xml:space="preserve">C2413.8</text>
<text x="241.41" y="30.80" font-size="8.70" font-weight="normal" fill="#2f3241" textLength="20.13" lengthAdjust="spacingAndGlyphs" xml:space="preserve">+15.8</text>
<text x="263.73" y="30.80" font-size="8.70" font-weight="normal" fill="#2f3241" textLength="30.74" lengthAdjust="spacingAndGlyphs" xml:space="preserve">(+0.66%)</text>
<text x="11.96" y="42.00" font-size="8.70" font-weight="normal" fill="#2f3241" textLength="11.29" lengthAdjust="spacingAndGlyphs" xml:space="preserve">Vol</text>
<text x="27.40" y="42.00" font-size="8.70" font-weight="normal" fill="#22a698" textLength="34.50" lengthAdjust="spacingAndGlyphs" xml:space="preserve">264.374K</text>
<text x="1255.70" y="59.90" font-size="16.00" font-weight="normal" fill="#131722" textLength="48.93" lengthAdjust="spacingAndGlyphs" xml:space="preserve">2550.0</text>
<text x="1255.70" y="100.78" font-size="16.00" font-weight="normal" fill="#131722" textLength="48.93" lengthAdjust="spacingAndGlyphs" xml:space="preserve">2500.0</text>
<text x="1255.70" y="141.66" font-size="16.00" font-weight="normal" fill="#131722" textLength="48.93" lengthAdjust="spacingAndGlyphs" xml:space="preserve">2450.0</text>
<text x="1255.70" y="182.54" font-size="16.00" font-weight="normal" fill="#131722" textLength="48.93" lengthAdjust="spacingAndGlyphs" xml:space="preserve">2400.0</text>
<text x="1255.70" y="223.42" font-size="16.00" font-weight="normal" fill="#131722" textLength="48.93" lengthAdjust="spacingAndGlyphs" xml:space="preserve">2350.0</text>
<text x="1255.70" y="264.30" font-size="16.00" font-weight="normal" fill="#131722" textLength="48.93" lengthAdjust="spacingAndGlyphs" xml:space="preserve">2300.0</text>
<text x="1255.70" y="305.18" font-size="16.00" font-weight="normal" fill="#131722" textLength="48.93" lengthAdjust="spacingAndGlyphs" xml:space="preserve">2250.0</text>
<text x="1255.70" y="346.06" font-size="16.00" font-weight="normal" fill="#131722" textLength="48.93" lengthAdjust="spacingAndGlyphs" xml:space="preserve">2200.0</text>
<text x="1255.70" y="386.94" font-size="16.00" font-weight="normal" fill="#131722" textLength="48.93" lengthAdjust="spacingAndGlyphs" xml:space="preserve">2150.0</text>
<text x="1255.70" y="427.82" font-size="16.00" font-weight="normal" fill="#131722" textLength="48.93" lengthAdjust="spacingAndGlyphs" xml:space="preserve">2100.0</text>
<text x="1255.70" y="468.70" font-size="16.00" font-weight="normal" fill="#131722" textLength="48.93" lengthAdjust="spacingAndGlyphs" xml:space="preserve">2050.0</text>
<text x="1255.70" y="509.58" font-size="16.00" font-weight="normal" fill="#131722" textLength="48.93" lengthAdjust="spacingAndGlyphs" xml:space="preserve">2000.0</text>
<text x="1255.28" y="550.46" font-size="16.00" font-weight="normal" fill="#131722" textLength="48.93" lengthAdjust="spacingAndGlyphs" xml:space="preserve">1950.0</text>
<text x="1255.28" y="591.34" font-size="16.00" font-weight="normal" fill="#131722" textLength="48.93" lengthAdjust="spacingAndGlyphs" xml:space="preserve">1900.0</text>
<text x="1255.28" y="632.22" font-size="16.00" font-weight="normal" fill="#131722" textLength="48.93" lengthAdjust="spacingAndGlyphs" xml:space="preserve">1850.0</text>
<text x="1152.19" y="76.47" font-size="13.20" font-weight="normal" fill="#131722" textLength="86.53" lengthAdjust="spacingAndGlyphs" xml:space="preserve">1.618 (2514.2)</text>
<text x="1152.19" y="135.66" font-size="13.20" font-weight="normal" fill="#131722" textLength="86.53" lengthAdjust="spacingAndGlyphs" xml:space="preserve">1.381 (2441.8)</text>
<text x="1152.19" y="171.80" font-size="13.20" font-weight="normal" fill="#131722" textLength="86.53" lengthAdjust="spacingAndGlyphs" xml:space="preserve">1.236 (2397.6)</text>
<text x="1178.08" y="230.75" font-size="13.20" font-weight="normal" fill="#131722" textLength="60.64" lengthAdjust="spacingAndGlyphs" xml:space="preserve">1 (2325.5)</text>
<text x="1152.19" y="284.14" font-size="13.20" font-weight="normal" fill="#131722" textLength="86.53" lengthAdjust="spacingAndGlyphs" xml:space="preserve">0.786 (2260.2)</text>
<text x="1152.19" y="326.08" font-size="13.20" font-weight="normal" fill="#131722" textLength="86.53" lengthAdjust="spacingAndGlyphs" xml:space="preserve">0.618 (2208.9)</text>
<text x="40.87" y="671.80" font-size="15.50" font-weight="normal" fill="#131722" textLength="20.07" lengthAdjust="spacingAndGlyphs" xml:space="preserve">Jul</text>
<text x="146.22" y="671.80" font-size="15.50" font-weight="normal" fill="#131722" textLength="27.93" lengthAdjust="spacingAndGlyphs" xml:space="preserve">Aug</text>
<text x="271.29" y="671.80" font-size="15.50" font-weight="normal" fill="#131722" textLength="27.93" lengthAdjust="spacingAndGlyphs" xml:space="preserve">Sep</text>
<text x="381.95" y="671.80" font-size="15.50" font-weight="normal" fill="#131722" textLength="24.42" lengthAdjust="spacingAndGlyphs" xml:space="preserve">Oct</text>
<text x="500.03" y="671.80" font-size="15.50" font-weight="normal" fill="#131722" textLength="27.91" lengthAdjust="spacingAndGlyphs" xml:space="preserve">Nov</text>
<text x="614.87" y="671.80" font-size="15.50" font-weight="normal" fill="#131722" textLength="27.91" lengthAdjust="spacingAndGlyphs" xml:space="preserve">Dec</text>
<text x="719.99" y="671.80" font-size="15.50" font-weight="bold" fill="#131722" textLength="36.47" lengthAdjust="spacingAndGlyphs" xml:space="preserve">2024</text>
<text x="839.28" y="671.80" font-size="15.50" font-weight="normal" fill="#131722" textLength="27.05" lengthAdjust="spacingAndGlyphs" xml:space="preserve">Feb</text>
<text x="948.29" y="671.80" font-size="15.50" font-weight="normal" fill="#131722" textLength="27.03" lengthAdjust="spacingAndGlyphs" xml:space="preserve">Mar</text>
<text x="1059.43" y="671.80" font-size="15.50" font-weight="normal" fill="#131722" textLength="24.43" lengthAdjust="spacingAndGlyphs" xml:space="preserve">Apr</text>
<text x="1176.19" y="671.80" font-size="15.50" font-weight="normal" fill="#131722" textLength="29.65" lengthAdjust="spacingAndGlyphs" xml:space="preserve">May</text>
<text x="22.21" y="699.60" font-size="9.90" font-weight="normal" fill="#d1d4dc" textLength="46.77" lengthAdjust="spacingAndGlyphs" xml:space="preserve">TradingView</text></g>
<path d="M1245.5 154.1h62.4a2 2 0 0 1 2 2v18.4a2 2 0 0 1 -2 2h-62.4z" fill="#089981"/>
<path d="M1245.5 197.9h62.4a2 2 0 0 1 2 2v18.6a2 2 0 0 1 -2 2h-62.4z" fill="#0c2b9e"/>
<path d="M1245.5 552.2h82.5a2 2 0 0 1 2 2v18.8a2 2 0 0 1 -2 2h-82.5z" fill="#26a69a"/>
<g font-family="'Liberation Sans', sans-serif"><text x="1256.11" y="170.80" font-size="15.80" font-weight="normal" fill="#ffffff" textLength="48.38" lengthAdjust="spacingAndGlyphs" xml:space="preserve">2413.8</text>
<text x="1256.11" y="214.70" font-size="15.80" font-weight="normal" fill="#ffffff" textLength="48.32" lengthAdjust="spacingAndGlyphs" xml:space="preserve">2360.0</text>
<text x="1256.10" y="569.20" font-size="15.80" font-weight="normal" fill="#ffffff" textLength="68.29" lengthAdjust="spacingAndGlyphs" xml:space="preserve">264.374K</text></g>
<g fill="#d8dadf"><path d="M6.3 692.3h5.7v7h-2.7v-4.7h-3z"/><circle cx="13.7" cy="693.5" r="1.15"/><path d="M15.4 692.3h4.2l-3.6 7h-3.4z"/></g>
</svg>

</body></html>
